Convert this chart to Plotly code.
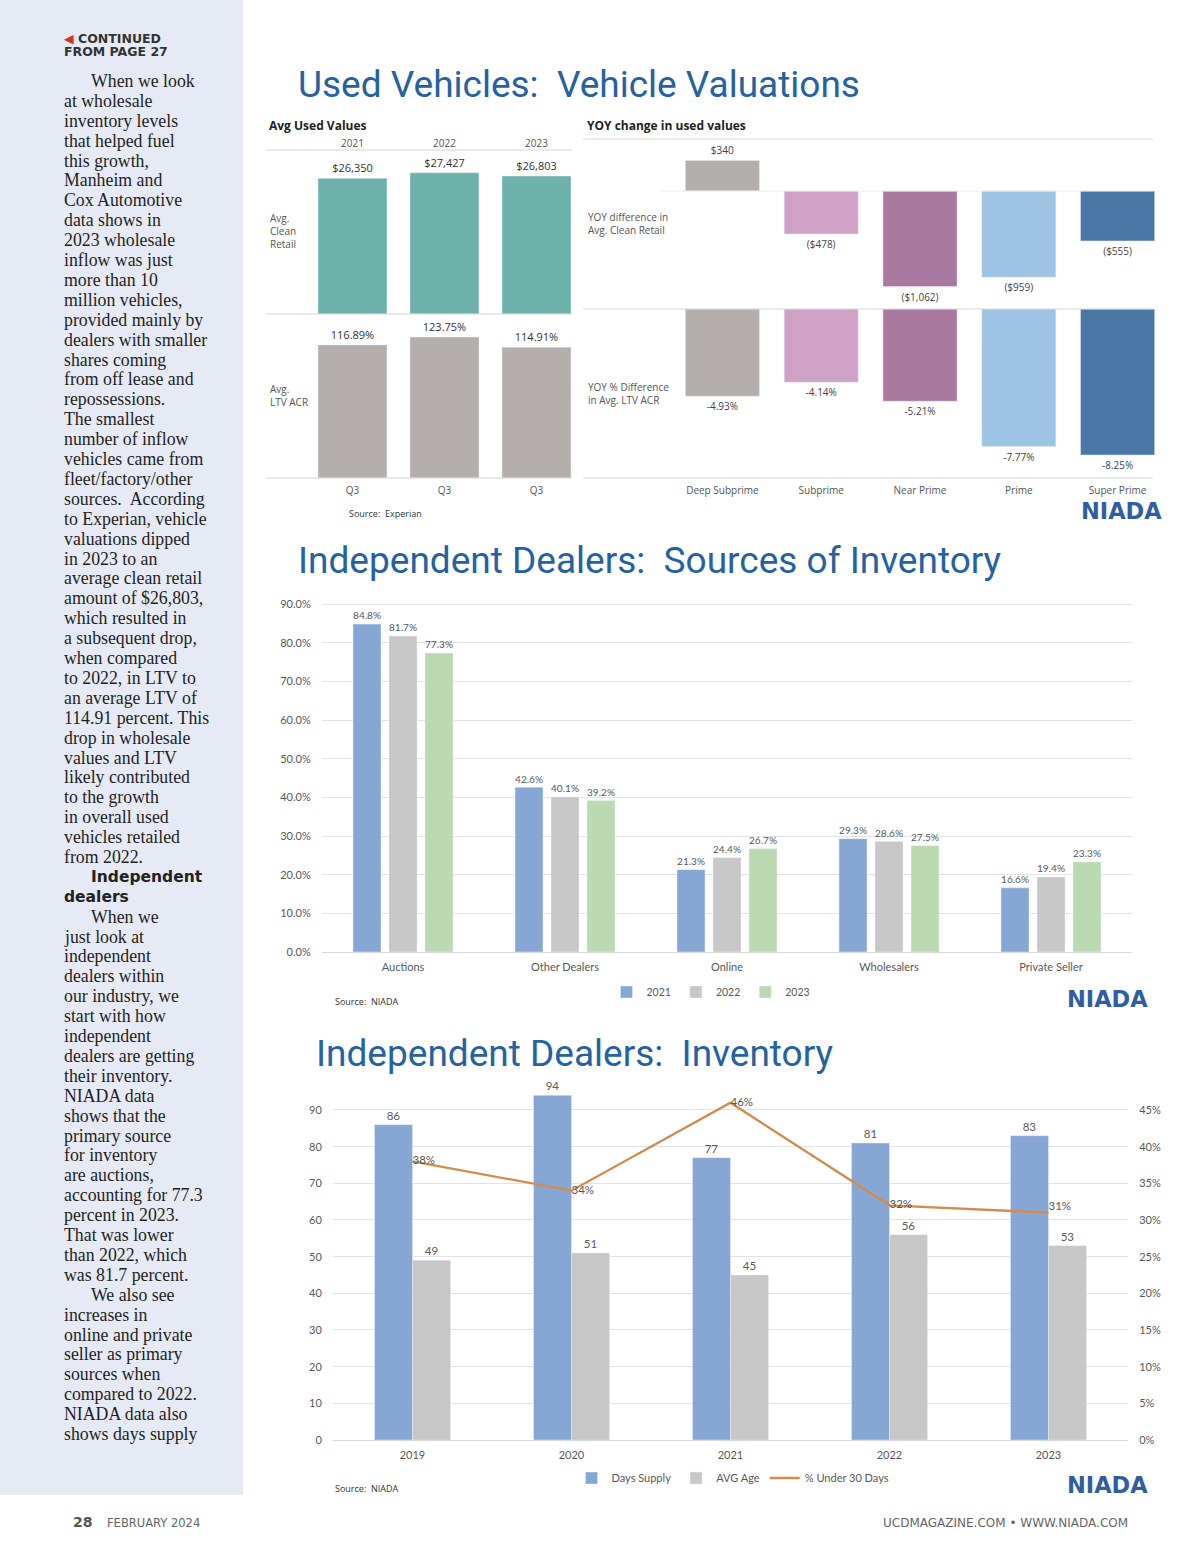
import plotly.graph_objects as go

W, H = 1200, 1558
def px(x): return x / W
def py(y): return 1 - y / H

# ---------------- data ----------------
avg_years = ["2021", "2022", "2023"]
avg_clean_retail = [26350, 27427, 26803]
avg_ltv_acr = [116.89, 123.75, 114.91]
quarter_labels = ["Q3", "Q3", "Q3"]

credit_tiers = ["Deep Subprime", "Subprime", "Near Prime", "Prime", "Super Prime"]
yoy_clean_retail_diff = [340, -478, -1062, -959, -555]
yoy_ltv_pct_diff = [-4.93, -4.14, -5.21, -7.77, -8.25]

source_categories = ["Auctions", "Other Dealers", "Online", "Wholesalers", "Private Seller"]
source_2021 = [84.8, 42.6, 21.3, 29.3, 16.6]
source_2022 = [81.7, 40.1, 24.4, 28.6, 19.4]
source_2023 = [77.3, 39.2, 26.7, 27.5, 23.3]
source_ticks = [0, 10, 20, 30, 40, 50, 60, 70, 80, 90]

inv_years = ["2019", "2020", "2021", "2022", "2023"]
days_supply = [86, 94, 77, 81, 83]
avg_age = [49, 51, 45, 56, 53]
pct_under_30 = [38, 34, 46, 32, 31]
days_ticks = [0, 10, 20, 30, 40, 50, 60, 70, 80, 90]
pct_ticks = [0, 5, 10, 15, 20, 25, 30, 35, 40, 45]

sidebar_lines = [
    ("When we look", True, "serif"), ("at wholesale", False, "serif"),
    ("inventory levels", False, "serif"), ("that helped fuel", False, "serif"),
    ("this growth,", False, "serif"), ("Manheim and", False, "serif"),
    ("Cox Automotive", False, "serif"), ("data shows in", False, "serif"),
    ("2023 wholesale", False, "serif"), ("inflow was just", False, "serif"),
    ("more than 10", False, "serif"), ("million vehicles,", False, "serif"),
    ("provided mainly by", False, "serif"), ("dealers with smaller", False, "serif"),
    ("shares coming", False, "serif"), ("from off lease and", False, "serif"),
    ("repossessions.", False, "serif"), ("The smallest", False, "serif"),
    ("number of inflow", False, "serif"), ("vehicles came from", False, "serif"),
    ("fleet/factory/other", False, "serif"), ("sources.  According", False, "serif"),
    ("to Experian, vehicle", False, "serif"), ("valuations dipped", False, "serif"),
    ("in 2023 to an", False, "serif"), ("average clean retail", False, "serif"),
    ("amount of $26,803,", False, "serif"), ("which resulted in", False, "serif"),
    ("a subsequent drop,", False, "serif"), ("when compared", False, "serif"),
    ("to 2022, in LTV to", False, "serif"), ("an average LTV of", False, "serif"),
    ("114.91 percent. This", False, "serif"), ("drop in wholesale", False, "serif"),
    ("values and LTV", False, "serif"), ("likely contributed", False, "serif"),
    ("to the growth", False, "serif"), ("in overall used", False, "serif"),
    ("vehicles retailed", False, "serif"), ("from 2022.", False, "serif"),
    ("Independent", True, "bold"), ("dealers", False, "bold"),
    ("When we", True, "serif"), ("just look at", False, "serif"),
    ("independent", False, "serif"), ("dealers within", False, "serif"),
    ("our industry, we", False, "serif"), ("start with how", False, "serif"),
    ("independent", False, "serif"), ("dealers are getting", False, "serif"),
    ("their inventory.", False, "serif"), ("NIADA data", False, "serif"),
    ("shows that the", False, "serif"), ("primary source", False, "serif"),
    ("for inventory", False, "serif"), ("are auctions,", False, "serif"),
    ("accounting for 77.3", False, "serif"), ("percent in 2023.", False, "serif"),
    ("That was lower", False, "serif"), ("than 2022, which", False, "serif"),
    ("was 81.7 percent.", False, "serif"), ("We also see", True, "serif"),
    ("increases in", False, "serif"), ("online and private", False, "serif"),
    ("seller as primary", False, "serif"), ("sources when", False, "serif"),
    ("compared to 2022.", False, "serif"), ("NIADA data also", False, "serif"),
    ("shows days supply", False, "serif"),
]

# ---------------- styles ----------------
TITLE_BLUE = "#2462A5"
TEAL = "#6DB1AA"
TAUPE = "#B4AEAC"
tier_colors = ["#B4AEAC", "#D0A2C7", "#A9789F", "#9EC4E4", "#4A77A6"]
C2021, C2022, C2023 = "#86A7D4", "#C7C7C7", "#BCDAB1"
ORANGE = "#D68A4C"
GRAY_TXT = "#595959"
EXP_FONT = "Open Sans"

fig = go.Figure()

def money(v):
    return f"(${abs(v):,})" if v < 0 else f"${v:,}"

# ---- top-left: avg used values ----
fig.add_trace(go.Bar(x=avg_years, y=avg_clean_retail, marker_color=TEAL,
                     text=[money(v) for v in avg_clean_retail], textposition="outside",
                     textfont=dict(size=11, color="#333", family=EXP_FONT),
                     width=0.75, offset=-0.375, cliponaxis=False, showlegend=False,
                     xaxis="x", yaxis="y"))
fig.add_trace(go.Bar(x=avg_years, y=avg_ltv_acr, marker_color=TAUPE,
                     text=[f"{v:.2f}%" for v in avg_ltv_acr], textposition="outside",
                     textfont=dict(size=11, color="#333", family=EXP_FONT),
                     width=0.75, offset=-0.375, cliponaxis=False, showlegend=False,
                     xaxis="x2", yaxis="y2"))

# ---- top-right: YOY change ----
fig.add_trace(go.Bar(x=credit_tiers, y=yoy_clean_retail_diff, marker_color=tier_colors,
                     text=[money(v) for v in yoy_clean_retail_diff], textposition="outside",
                     textfont=dict(size=10, color="#444", family=EXP_FONT),
                     width=0.75, offset=-0.375, cliponaxis=False, showlegend=False,
                     xaxis="x3", yaxis="y3"))
fig.add_trace(go.Bar(x=credit_tiers, y=yoy_ltv_pct_diff, marker_color=tier_colors,
                     text=[f"{v:.2f}%" for v in yoy_ltv_pct_diff], textposition="outside",
                     textfont=dict(size=10, color="#444", family=EXP_FONT),
                     width=0.75, offset=-0.375, cliponaxis=False, showlegend=False,
                     xaxis="x4", yaxis="y4"))

# ---- section 2: sources of inventory ----
src_w = 28 / 162
for name, vals, col, off in [("2021", source_2021, C2021, -0.3086),
                             ("2022", source_2022, C2022, -0.0864),
                             ("2023", source_2023, C2023, 0.1358)]:
    fig.add_trace(go.Bar(x=source_categories, y=vals, name=name, marker_color=col,
                         text=[f"{v:.1f}%" for v in vals], textposition="outside",
                         textfont=dict(size=11.5, color=GRAY_TXT),
                         width=src_w, offset=off, cliponaxis=False,
                         xaxis="x5", yaxis="y5", legend="legend"))

# ---- section 3: inventory ----
inv_w = 38 / 159
fig.add_trace(go.Bar(x=inv_years, y=days_supply, name="Days Supply", marker_color=C2021,
                     text=[str(v) for v in days_supply], textposition="outside",
                     textfont=dict(size=11.5, color=GRAY_TXT),
                     width=inv_w, offset=-inv_w, cliponaxis=False,
                     xaxis="x6", yaxis="y6", legend="legend2"))
fig.add_trace(go.Bar(x=inv_years, y=avg_age, name="AVG Age", marker_color=C2022,
                     text=[str(v) for v in avg_age], textposition="outside",
                     textfont=dict(size=11.5, color=GRAY_TXT),
                     width=inv_w, offset=0, cliponaxis=False,
                     xaxis="x6", yaxis="y6", legend="legend2"))
fig.add_trace(go.Scatter(x=inv_years, y=pct_under_30, name="% Under 30 Days",
                         mode="lines+text", line=dict(color=ORANGE, width=2.3),
                         text=[f"{v}%" for v in pct_under_30],
                         textposition=["middle right", "middle right", "middle right",
                                       "middle right", "top right"],
                         textfont=dict(size=11.5, color=GRAY_TXT), cliponaxis=False,
                         xaxis="x6", yaxis="y7", legend="legend2"))

hidden_y = dict(showgrid=False, zeroline=False, showticklabels=False, showline=False)
cat_font = dict(size=10, color="#555", family=EXP_FONT)
cat_ticks = dict(ticks="outside", ticklen=3, tickcolor="rgba(0,0,0,0)")

src_top = 90.3
fig.update_layout(
    width=W, height=H, autosize=False,
    margin=dict(l=0, r=0, t=0, b=0, pad=0, autoexpand=False),
    paper_bgcolor="white", plot_bgcolor="rgba(0,0,0,0)",
    font=dict(family="Lato", color=GRAY_TXT),
    barmode="overlay",
    # top-left
    xaxis=dict(domain=[px(306.5), px(582.5)], anchor="y", side="top", type="category",
               tickfont=cat_font, showgrid=False, showline=False, zeroline=False),
    yaxis=dict(domain=[py(314), py(150)], anchor="x", range=[0, 31850], **hidden_y),
    xaxis2=dict(domain=[px(306.5), px(582.5)], anchor="y2", type="category",
                tickvals=avg_years, ticktext=quarter_labels,
                tickfont=cat_font, showgrid=False, showline=False, zeroline=False,
                **cat_ticks),
    yaxis2=dict(domain=[py(478), py(314)], anchor="x2", range=[0, 144], **hidden_y),
    # top-right
    xaxis3=dict(domain=[px(673), px(1167)], anchor="y3", type="category",
                showticklabels=False, showgrid=False, showline=False, zeroline=False),
    yaxis3=dict(domain=[py(309), py(139)], anchor="x3", range=[-1311, 578], **hidden_y),
    xaxis4=dict(domain=[px(673), px(1167)], anchor="y4", type="category",
                tickfont=cat_font, showgrid=False, showline=False, zeroline=False,
                **cat_ticks),
    yaxis4=dict(domain=[py(478), py(309)], anchor="x4", range=[-9.55, 0], **hidden_y),
    # section 2
    xaxis5=dict(domain=[px(322), px(1132)], anchor="y5", type="category",
                tickfont=dict(size=11, color=GRAY_TXT), showgrid=False,
                showline=True, linecolor="#D9D9D9", zeroline=False,
                ticks="outside", ticklen=5, tickcolor="rgba(0,0,0,0)"),
    yaxis5=dict(domain=[py(952), py(952 - src_top * 348 / 90)], anchor="x5",
                range=[0, src_top], tickvals=source_ticks,
                ticktext=[f"{v:.1f}%" for v in source_ticks],
                tickfont=dict(size=11, color=GRAY_TXT),
                showgrid=True, gridcolor="#E3E3E3", zeroline=False, showline=False,
                ticks="outside", ticklen=8, tickcolor="rgba(0,0,0,0)"),
    # section 3
    xaxis6=dict(domain=[px(333), px(1128)], anchor="y6", type="category",
                tickfont=dict(size=11, color=GRAY_TXT), showgrid=False,
                showline=True, linecolor="#D9D9D9", zeroline=False,
                ticks="outside", ticklen=5, tickcolor="rgba(0,0,0,0)"),
    yaxis6=dict(domain=[py(1440), py(1440 - 95 * 33.0 / 9)], anchor="x6", range=[0, 95],
                tickvals=days_ticks, tickfont=dict(size=11, color=GRAY_TXT),
                showgrid=True, gridcolor="#E3E3E3", zeroline=False, showline=False,
                ticks="outside", ticklen=8, tickcolor="rgba(0,0,0,0)"),
    yaxis7=dict(overlaying="y6", side="right", anchor="x6", range=[0, 47.5],
                tickvals=pct_ticks, ticktext=[f"{v}%" for v in pct_ticks],
                tickfont=dict(size=11, color=GRAY_TXT), showgrid=False, zeroline=False,
                showline=False, ticks="outside", ticklen=8, tickcolor="rgba(0,0,0,0)"),
    legend=dict(orientation="h", x=px(711), y=py(992), xanchor="center", yanchor="middle",
                font=dict(size=10.5, color=GRAY_TXT), bgcolor="rgba(0,0,0,0)",
                itemwidth=30, tracegroupgap=0),
    legend2=dict(orientation="h", x=px(733), y=py(1478), xanchor="center", yanchor="middle",
                 font=dict(size=11, color=GRAY_TXT), bgcolor="rgba(0,0,0,0)",
                 itemwidth=30, tracegroupgap=0),
)

shapes = []
# sidebar background
shapes.append(dict(type="rect", xref="paper", yref="paper", x0=0, x1=px(243),
                   y0=py(1495), y1=1, fillcolor="#E6EAF4", line=dict(width=0), layer="below"))
for y in [150, 314, 478]:
    shapes.append(dict(type="line", xref="paper", yref="paper", x0=px(266), x1=px(572),
                       y0=py(y), y1=py(y), line=dict(color="#D6D6D6", width=1.2)))
for y in [139, 309, 478]:
    shapes.append(dict(type="line", xref="paper", yref="paper", x0=px(583), x1=px(1153),
                       y0=py(y), y1=py(y), line=dict(color="#D6D6D6", width=1.2)))
shapes.append(dict(type="line", xref="paper", yref="paper", x0=px(660), x1=px(1153),
                   y0=py(191), y1=py(191), line=dict(color="#EBEBEB", width=1)))
fig.update_layout(shapes=shapes)

ann = []
def add_text(x, y, text, size, color="#333", family="Lato", xanchor="left", **kw):
    ann.append(dict(x=px(x), y=py(y), xref="paper", yref="paper", text=text,
                    showarrow=False, xanchor=xanchor, yanchor="middle",
                    font=dict(size=size, color=color, family=family), **kw))

# titles
add_text(296, 84, "Used Vehicles:  Vehicle Valuations", 37, TITLE_BLUE, "Roboto")
add_text(296, 560, "Independent Dealers:  Sources of Inventory", 37, TITLE_BLUE, "Roboto")
add_text(314, 1053, "Independent Dealers:  Inventory", 37, TITLE_BLUE, "Roboto")

# experian panel labels
add_text(267, 126, "<b>Avg Used Values</b>", 12, "#222", EXP_FONT)
add_text(585, 126, "<b>YOY change in used values</b>", 12, "#222", EXP_FONT)
add_text(268, 231, "Avg.<br>Clean<br>Retail", 10, "#555", EXP_FONT, align="left")
add_text(268, 396, "Avg.<br>LTV ACR", 10, "#555", EXP_FONT, align="left")
add_text(586, 224, "YOY difference in<br>Avg. Clean Retail", 10, "#555", EXP_FONT, align="left")
add_text(586, 394, "YOY % Difference<br>in Avg. LTV ACR", 10, "#555", EXP_FONT, align="left")

# sources & logos
add_text(347, 513, "Source:  Experian", 9, "#333", EXP_FONT)
add_text(333, 1001, "Source:  NIADA", 9, "#333", EXP_FONT)
add_text(333, 1488, "Source:  NIADA", 9, "#333", EXP_FONT)
for lx, ly in [(1121, 511), (1107, 999), (1107, 1485)]:
    add_text(lx, ly, "<b>NIADA</b>", 22.5, "#2F5EA8", "DejaVu Sans", xanchor="center")

# sidebar
add_text(62, 38, '<b><span style="color:#D9302C">◀</span> CONTINUED</b>', 12.5,
         "#333", "DejaVu Sans")
add_text(62, 51, "<b>FROM PAGE 27</b>", 12.5, "#333", "DejaVu Sans")
y0, step = 81, (1434 - 81) / (len(sidebar_lines) - 1)
for i, (txt, indent, style) in enumerate(sidebar_lines):
    x = 89 if indent else 62
    if style == "bold":
        add_text(x, y0 + i * step, f"<b>{txt}</b>", 15.5, "#222", "DejaVu Sans")
    else:
        add_text(x, y0 + i * step, txt, 17.8, "#1f1f1f", "Liberation Serif")

# footer
add_text(71, 1522, "<b>28</b>", 14, "#555", "DejaVu Sans")
add_text(105, 1523, "FEBRUARY 2024", 11.5, "#666", "DejaVu Sans")
add_text(1130, 1523, "UCDMAGAZINE.COM • WWW.NIADA.COM", 12, "#666", "DejaVu Sans",
         xanchor="right")

fig.update_layout(annotations=ann)
fig.write_html("out.html", config={"displayModeBar": False},
               post_script="document.body.style.margin='0';document.body.style.padding='0';")
